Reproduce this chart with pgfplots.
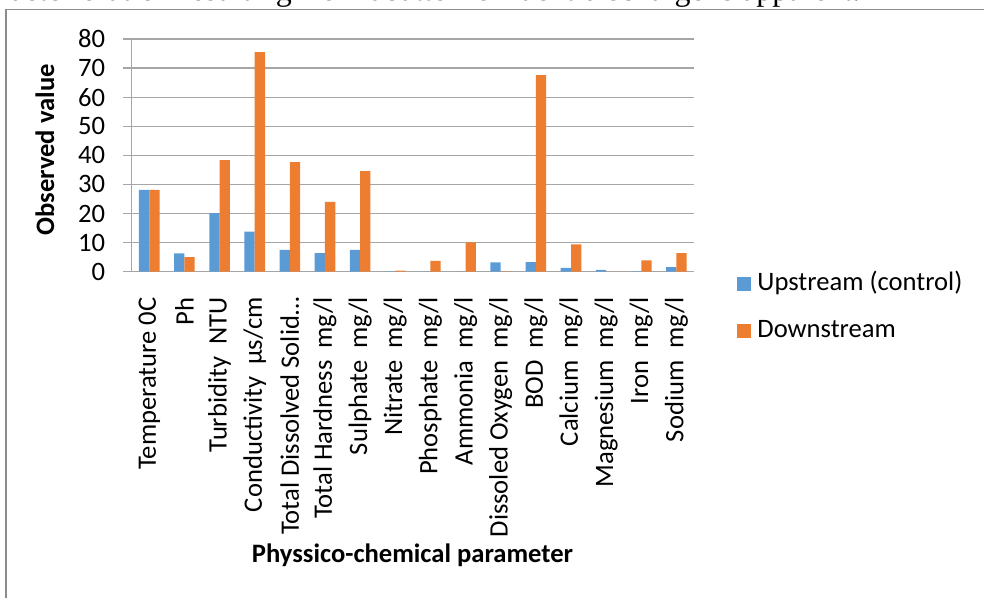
\documentclass[border=0pt]{standalone}
\usepackage{fontspec}
\setmainfont{Carlito}
\newfontfamily\seriffont{Liberation Serif}
\usepackage{pgfplots}
\pgfplotsset{compat=1.18}
\definecolor{upblue}{HTML}{5B9BD5}
\definecolor{downorange}{HTML}{ED7D31}
\definecolor{gridgray}{HTML}{A6A6A6}
\definecolor{framegray}{HTML}{8C8C8C}
\newcommand{\lbl}{\fontsize{13.3}{16}\selectfont}
\begin{document}
\begin{tikzpicture}
\useasboundingbox (0,0) rectangle (492pt,299pt);
\draw[framegray, line width=0.6pt] (3pt,-5pt) -- (3pt,294.25pt) -- (500pt,294.25pt);
\node[anchor=base west, inner sep=0pt, font=\seriffont\fontsize{16}{19}\selectfont] at (4pt,298.5pt) {deterioration resulting from abattoir effluent discharge is apparent.};
\begin{axis}[
  at={(65.85pt,163.15pt)}, anchor=south west,
  scale only axis, width=281.15pt, height=116.35pt,
  ybar=0pt, bar width=5.15pt,
  xmin=-0.5, xmax=15.5, ymin=0, ymax=80,
  xtick={0,...,15},
  xticklabels={Temperature 0C, Ph, Turbidity~~NTU, Conductivity~~µs/cm, Total Dissolved Solid…, Total Hardness~~mg/l, Sulphate~~mg/l, Nitrate~~mg/l, Phosphate~~mg/l, Ammonia~~mg/l, Dissoled Oxygen~~mg/l, BOD~~mg/l, Calcium~~mg/l, Magnesium~~mg/l, Iron~~mg/l, Sodium~~mg/l},
  ytick={0,10,...,80},
  ymajorgrids, grid style={gridgray, line width=0.6pt},
  axis x line*=bottom, axis y line*=left,
  axis line style={gridgray, line width=0.6pt, -},
  x tick style={draw=none},
  y tick style={gridgray, line width=0.6pt},
  tick align=outside, major tick length=4.15pt,
  /pgf/number format/assume math mode=true,
  yticklabel style={font=\lbl, inner sep=0pt, anchor=east},
  yticklabel shift=9pt,
  xticklabel style={font=\lbl, inner sep=0pt, rotate=90, anchor=east},
  xticklabel shift=8.5pt,
  xlabel={Physsico-chemical parameter},
  xlabel style={font=\lbl\bfseries, at={(rel axis cs:0.4994,-1.2175)}, anchor=center},
  ylabel={Observed value},
  ylabel style={font=\lbl\bfseries, at={(rel axis cs:-0.1542,0.523)}, anchor=center},
  legend style={font=\lbl, at={(rel axis cs:1.0765,0)}, anchor=north west, draw=none, fill=none, inner sep=0pt, row sep=11.5pt, column sep=3pt,
    nodes={inner sep=0pt, text height=9pt, text depth=3pt}},
  legend cell align=left,
  every axis plot/.append style={draw=none},
]
\addplot[fill=upblue, draw=none, legend image code/.code={\fill[upblue] (0pt,-3.5pt) rectangle (7pt,3.5pt);}] coordinates {
(0,28.1) (1,6.3) (2,20.1) (3,13.8) (4,7.5) (5,6.4) (6,7.5) (7,0.15) (8,0) (9,0) (10,3.2) (11,3.3) (12,1.3) (13,0.6) (14,0.1) (15,1.6)};
\addplot[fill=downorange, draw=none, legend image code/.code={\fill[downorange] (0pt,-3.5pt) rectangle (7pt,3.5pt);}] coordinates {
(0,28.1) (1,5.05) (2,38.4) (3,75.5) (4,37.7) (5,24.0) (6,34.6) (7,0.35) (8,3.7) (9,10.1) (10,0.15) (11,67.6) (12,9.4) (13,0) (14,3.9) (15,6.4)};
\legend{Upstream (control), Downstream}
\end{axis}
\end{tikzpicture}
\end{document}
